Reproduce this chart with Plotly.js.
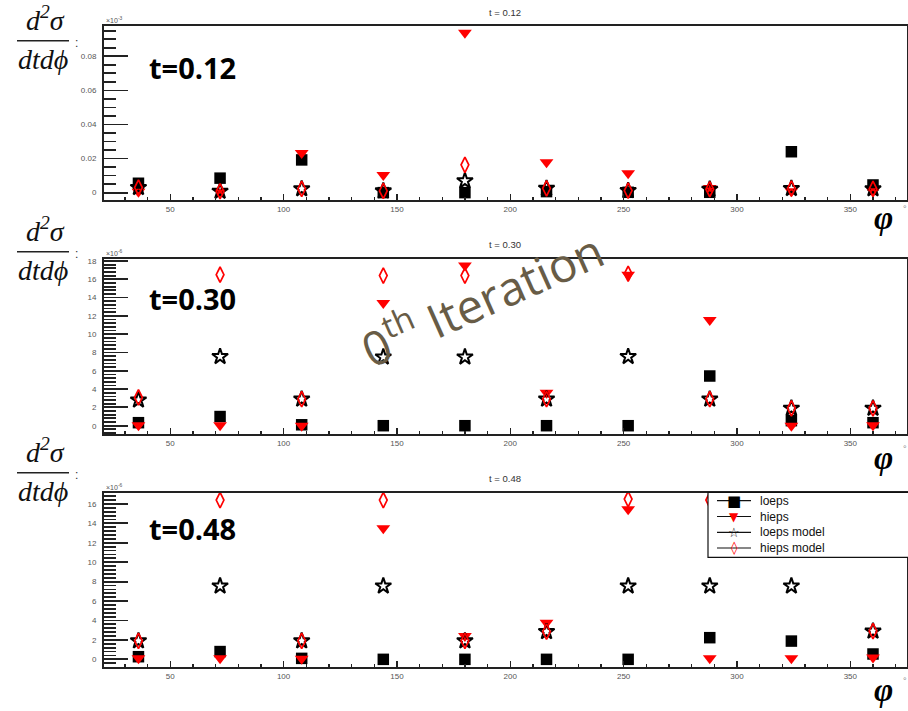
<!DOCTYPE html>
<html>
<head>
<meta charset="utf-8">
<script src="https://cdn.plot.ly/plotly-3.0.1.min.js"></script>
<style>html,body{margin:0;padding:0;background:#fff;}#chart{width:908px;height:711px;}</style>
</head>
<body>
<div id="chart"></div>
<script>
// ---- data ----
const phi = [36, 72, 108, 144, 180, 216, 252, 288, 324, 360];
const panelT = ["0.12", "0.30", "0.48"];
const seriesNames = ["loeps", "hieps", "loeps model", "hieps model"];

// t = 0.12
const loeps1  = [0.0055, 0.0085, 0.0192, 0.0000, 0.0000, 0.0006, 0.0002, 0.0002, 0.0240, 0.0045];
const hieps1  = [0.0005, 0.0005, 0.0233, 0.0104, 0.0938, 0.0179, 0.0114, 0.0027, 0.0008, 0.0008];
const loepsM1 = [0.0030, 0.0008, 0.0022, 0.0010, 0.0069, 0.0025, 0.0012, 0.0020, 0.0024, 0.0022];
const hiepsM1 = [0.0030, 0.0008, 0.0022, 0.0010, 0.0163, 0.0025, 0.0012, 0.0020, 0.0024, 0.0022];
// t = 0.30
const loeps2  = [0.33, 1.00, 0.10, 0.00, 0.00, 0.00, 0.00, 5.43, 0.55, 0.33];
const hieps2  = [0.05, 0.05, 0.00, 13.4, 17.5, 3.60, 16.5, 11.55, 0.00, 0.05];
const loepsM2 = [2.80, 7.55, 2.90, 7.50, 7.50, 2.90, 7.55, 2.90, 1.90, 1.90];
const hiepsM2 = [3.10, 16.5, 2.90, 16.4, 16.4, 2.90, 16.6, 2.90, 1.90, 1.90];
// t = 0.48
const loeps3  = [0.27, 0.80, 0.10, 0.00, 0.00, 0.00, 0.00, 2.23, 1.88, 0.55];
const hieps3  = [0.10, 0.10, 0.05, 13.5, 2.40, 3.77, 15.45, 0.10, 0.10, 0.20];
const loepsM3 = [1.90, 7.55, 1.90, 7.55, 1.90, 2.85, 7.55, 7.55, 7.55, 2.90];
const hiepsM3 = [1.90, 16.4, 1.90, 16.4, 1.90, 2.85, 16.5, 16.4, 16.4, 2.90];

// ticks
const xTickVals = [50, 100, 150, 200, 250, 300, 350];
const yTicks1 = [0, 0.02, 0.04, 0.06, 0.08];
const yTickText1 = ["0", "0.02", "0.04", "0.06", "0.08"];
const yTicks2 = [0, 2, 4, 6, 8, 10, 12, 14, 16, 18];
const yTicks3 = [0, 2, 4, 6, 8, 10, 12, 14, 16];
const expLabels = ["×10<sup>-3</sup>", "×10<sup>-6</sup>", "×10<sup>-6</sup>"];

// ---- layout helpers ----
const W = 908, H = 711;
const px = x => x / W;
const py = y => 1 - y / H;

const panels = [
  {top: 26, bottom: 200.3, yrange: [-0.0045, 0.0978], ticks: yTicks1, text: yTickText1, minor: 0.005,
   data: [loeps1, hieps1, loepsM1, hiepsM1], bar: 40.7, bigT: 68, title: 12, exp: 20, phiY: 218},
  {top: 258.5, bottom: 434.3, yrange: [-0.94, 18.27], ticks: yTicks2, text: yTicks2.map(String), minor: 0.4,
   data: [loeps2, hieps2, loepsM2, hiepsM2], bar: 251.7, bigT: 298, title: 244, exp: 253, phiY: 458},
  {top: 492.5, bottom: 667.3, yrange: [-0.82, 17.18], ticks: yTicks3, text: yTicks3.map(String), minor: 0.4,
   data: [loeps3, hieps3, loepsM3, hiepsM3], bar: 472.7, bigT: 528, title: 478, exp: 487, phiY: 690}
];

const markerStyles = [
  {symbol: "square", color: "#000000", size: 11.5},
  {symbol: "triangle-down", color: "#ff0000", size: 12},
  {symbol: "star-open", color: "#000000", size: 12, line: {width: 2, color: "#000000"}},
  {symbol: "diamond-tall-open", color: "#ff0000", size: 11, line: {width: 1.7, color: "#ff0000"}}
];

const traces = [];
const layout = {
  width: W, height: H,
  margin: {l: 0, r: 0, t: 0, b: 0},
  paper_bgcolor: "#ffffff", plot_bgcolor: "#ffffff",
  showlegend: false,
  font: {family: "Liberation Sans, Arial, sans-serif", color: "#444"},
  annotations: [], shapes: []
};

const axisFont = {family: "Liberation Sans, Arial, sans-serif", size: 8, color: "#555"};

panels.forEach((p, i) => {
  const n = i === 0 ? "" : String(i + 1);
  const xa = "x" + n, ya = "y" + n;
  p.data.forEach((vals, k) => {
    traces.push({
      type: "scatter", mode: "markers", x: phi, y: vals,
      xaxis: xa, yaxis: ya, name: seriesNames[k],
      marker: markerStyles[k], cliponaxis: false, hoverinfo: "skip"
    });
  });
  layout["xaxis" + n] = {
    domain: [px(104), px(907)], anchor: ya, range: [20.8, 375],
    tickmode: "array", tickvals: xTickVals, ticktext: xTickVals.map(String),
    ticks: "inside", ticklen: 6, tickwidth: 1.3, tickcolor: "#222",
    minor: {dtick: 10, tick0: 0, ticks: "inside", ticklen: 3, tickwidth: 1.3, tickcolor: "#222"},
    showline: true, linewidth: 2, linecolor: "#222", mirror: true,
    showgrid: false, zeroline: false, tickfont: axisFont, fixedrange: true
  };
  layout["yaxis" + n] = {
    domain: [py(p.bottom), py(p.top)], anchor: xa, range: p.yrange,
    tickmode: "array", tickvals: p.ticks, ticktext: p.text,
    ticks: "inside", ticklen: 24, tickwidth: 1.8, tickcolor: "#222",
    minor: {dtick: p.minor, tick0: 0, ticks: "inside", ticklen: 12, tickwidth: 1.8, tickcolor: "#222"},
    showline: true, linewidth: 2, linecolor: "#222", mirror: true,
    showgrid: false, zeroline: false, tickfont: axisFont, ticklabelstandoff: 4, fixedrange: true
  };

  // fraction label
  layout.annotations.push(
    {xref: "paper", yref: "paper", x: px(45), y: py(p.bar - 3), xanchor: "center", yanchor: "bottom",
     text: "<i>d<sup>2</sup>σ</i>", showarrow: false,
     font: {family: "Liberation Serif, Times New Roman, serif", size: 28, color: "#111"}},
    {xref: "paper", yref: "paper", x: px(43), y: py(p.bar + 1), xanchor: "center", yanchor: "top",
     text: "<i>dtdϕ</i>", showarrow: false,
     font: {family: "Liberation Serif, Times New Roman, serif", size: 28, color: "#111"}},
    {xref: "paper", yref: "paper", x: px(76), y: py(p.bar + 2), xanchor: "center", yanchor: "middle",
     text: ":", showarrow: false, font: {family: "Liberation Sans, Arial, sans-serif", size: 12, color: "#333"}},
    {xref: "paper", yref: "paper", x: px(147), y: py(p.bigT), xanchor: "left", yanchor: "middle",
     text: "<b>t=" + panelT[i] + "</b>", showarrow: false,
     font: {family: "Open Sans, Noto Sans, sans-serif", size: 29, color: "#000"}},
    {xref: "paper", yref: "paper", x: px(505), y: py(p.title), xanchor: "center", yanchor: "middle",
     text: "t = " + panelT[i], showarrow: false,
     font: {family: "Liberation Sans, Arial, sans-serif", size: 9.5, color: "#333"}},
    {xref: "paper", yref: "paper", x: px(104), y: py(p.exp), xanchor: "left", yanchor: "middle",
     text: expLabels[i], showarrow: false,
     font: {family: "Liberation Sans, Arial, sans-serif", size: 7, color: "#555"}},
    {xref: "paper", yref: "paper", x: px(883), y: py(p.phiY), xanchor: "center", yanchor: "middle",
     text: "<b><i>φ</i></b>", showarrow: false,
     font: {family: "Liberation Serif, Times New Roman, serif", size: 33, color: "#000"}},
    {xref: "paper", yref: "paper", x: px(905), y: py(p.phiY - 9), xanchor: "center", yanchor: "middle",
     text: "°", showarrow: false, font: {family: "Liberation Sans, Arial, sans-serif", size: 9, color: "#888"}}
  );
  layout.shapes.push({type: "line", xref: "paper", yref: "paper",
    x0: px(17), x1: px(69), y0: py(p.bar), y1: py(p.bar), line: {color: "#222", width: 1.5}});
});

// watermark
layout.annotations.push({xref: "paper", yref: "paper", x: px(481), y: py(297), xanchor: "center", yanchor: "middle",
  text: "0<sup>th</sup> Iteration", textangle: -24, showarrow: false,
  font: {family: "Open Sans, Noto Sans, sans-serif", size: 47, color: "rgb(104,92,70)"}});

// legend (drawn as a box, in panel 3)
const legTop = 492.5, legBot = 557.3, legL = 708;
layout.shapes.push({type: "rect", xref: "paper", yref: "paper", layer: "above",
  x0: px(legL), x1: px(910), y0: py(legTop), y1: py(legBot),
  line: {color: "#111", width: 1.2}, fillcolor: "#ffffff"});
const legRows = [500.7, 516.5, 532.3, 548];
const legGlyphs = [
  {t: "■", c: "#000", s: 15},
  {t: "▼", c: "#ff0000", s: 12},
  {t: "☆", c: "#000", s: 13},
  {t: "◊", c: "#ff0000", s: 13}
];
legRows.forEach((yy, k) => {
  layout.shapes.push({type: "line", xref: "paper", yref: "paper", layer: "above",
    x0: px(717), x1: px(751), y0: py(yy), y1: py(yy), line: {color: "#111", width: 1.2}});
  layout.annotations.push(
    {xref: "paper", yref: "paper", x: px(734), y: py(yy), xanchor: "center", yanchor: "middle",
     text: legGlyphs[k].t, showarrow: false,
     font: {family: "DejaVu Sans, sans-serif", size: legGlyphs[k].s, color: legGlyphs[k].c}},
    {xref: "paper", yref: "paper", x: px(758), y: py(yy), xanchor: "left", yanchor: "middle",
     text: seriesNames[k], showarrow: false,
     font: {family: "Liberation Sans, Arial, sans-serif", size: 12, color: "#111"}}
  );
});

Plotly.newPlot("chart", traces, layout, {displayModeBar: false, staticPlot: true});
</script>
</body>
</html>
